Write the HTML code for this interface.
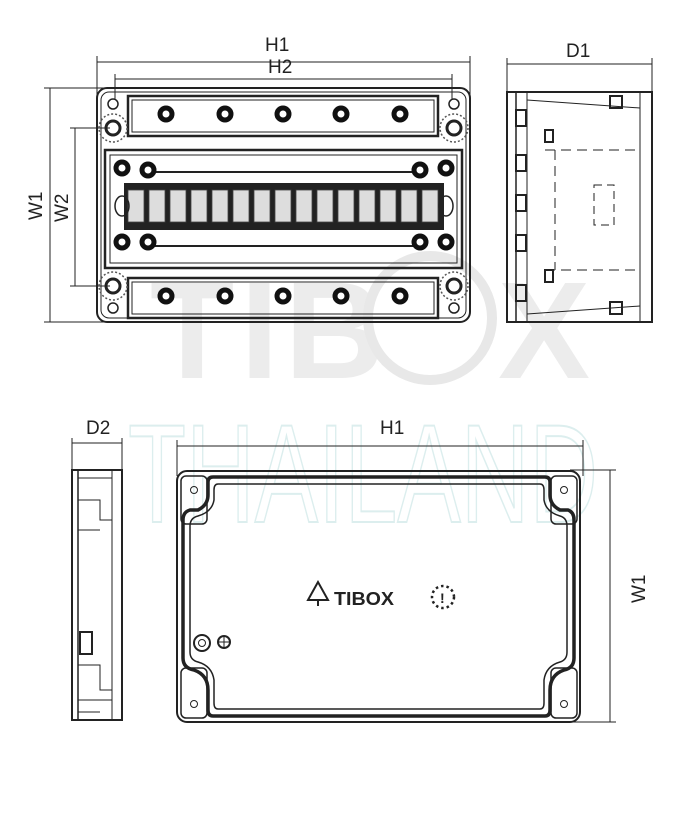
<!DOCTYPE html>
<html><head><meta charset="utf-8"><style>
html,body{margin:0;padding:0;background:#fff;}
svg{display:block;}
text{font-family:"Liberation Sans",sans-serif;}
</style></head><body>
<svg width="695" height="820" viewBox="0 0 695 820" xmlns="http://www.w3.org/2000/svg">
<!-- watermark -->
<text x="150" y="378" font-size="138" font-weight="bold" fill="#ececec" letter-spacing="6">TIB</text>
<circle cx="430" cy="318" r="62" fill="none" stroke="#e8e8e8" stroke-width="10"/>
<text x="498" y="378" font-size="138" font-weight="bold" fill="#ececec">X</text>
<text x="128" y="522" font-size="140" font-family="Liberation Serif" fill="none" stroke="#dceeee" stroke-width="2" textLength="470" lengthAdjust="spacingAndGlyphs">THAILAND</text>

<g stroke="#222" fill="none" stroke-width="1">
<line x1="97" y1="62" x2="470" y2="62"/><line x1="97" y1="56" x2="97" y2="95"/><line x1="470" y1="56" x2="470" y2="95"/>
<line x1="115" y1="79" x2="452" y2="79"/><line x1="115" y1="74" x2="115" y2="100"/><line x1="452" y1="74" x2="452" y2="100"/>
<line x1="50" y1="88" x2="50" y2="322"/><line x1="44" y1="88" x2="110" y2="88"/><line x1="44" y1="322" x2="110" y2="322"/>
<line x1="75" y1="128" x2="75" y2="286"/><line x1="70" y1="128" x2="110" y2="128"/><line x1="70" y1="286" x2="110" y2="286"/>
<rect x="97" y="88" width="373" height="234" rx="10" stroke-width="2"/>
<rect x="101" y="92" width="365" height="226" rx="8"/>
<rect x="128" y="96" width="310" height="40" stroke-width="2.5"/>
<rect x="132" y="100" width="302" height="32"/>
<rect x="128" y="278" width="310" height="40" stroke-width="2.5"/>
<rect x="132" y="282" width="302" height="32"/>
<rect x="105" y="150" width="357" height="118" stroke-width="2.5"/>
<rect x="110" y="155" width="347" height="108"/>
<line x1="150" y1="172" x2="420" y2="172" stroke-width="2"/>
<line x1="150" y1="246" x2="420" y2="246" stroke-width="2"/>
</g>
<g fill="none" stroke="#222" stroke-width="1.5">
<circle cx="113" cy="104" r="5"/><circle cx="113" cy="128" r="7" stroke-width="3"/><circle cx="113" cy="128" r="14" stroke="#555" stroke-dasharray="2 2"/>
<circle cx="454" cy="104" r="5"/><circle cx="454" cy="128" r="7" stroke-width="3"/><circle cx="454" cy="128" r="14" stroke="#555" stroke-dasharray="2 2"/>
<circle cx="113" cy="308" r="5"/><circle cx="113" cy="286" r="7" stroke-width="3"/><circle cx="113" cy="286" r="14" stroke="#555" stroke-dasharray="2 2"/>
<circle cx="454" cy="308" r="5"/><circle cx="454" cy="286" r="7" stroke-width="3"/><circle cx="454" cy="286" r="14" stroke="#555" stroke-dasharray="2 2"/>
</g>
<g fill="#fff" stroke="#111" stroke-width="5">
<circle cx="166" cy="114" r="6"/><circle cx="225" cy="114" r="6"/><circle cx="283" cy="114" r="6"/><circle cx="341" cy="114" r="6"/><circle cx="400" cy="114" r="6"/>
<circle cx="166" cy="296" r="6"/><circle cx="225" cy="296" r="6"/><circle cx="283" cy="296" r="6"/><circle cx="341" cy="296" r="6"/><circle cx="400" cy="296" r="6"/>
<circle cx="122" cy="168" r="6"/><circle cx="148" cy="170" r="6"/><circle cx="420" cy="170" r="6"/><circle cx="446" cy="168" r="6"/>
<circle cx="122" cy="242" r="6"/><circle cx="148" cy="242" r="6"/><circle cx="420" cy="242" r="6"/><circle cx="446" cy="242" r="6"/>
</g>
<rect x="124" y="183" width="320" height="47" fill="#222"/>
<g fill="#ddd" stroke="#444" stroke-width="0.8">
<rect x="128" y="190" width="16" height="32"/><rect x="149" y="190" width="16" height="32"/><rect x="170" y="190" width="16" height="32"/><rect x="191" y="190" width="16" height="32"/><rect x="212" y="190" width="16" height="32"/><rect x="233" y="190" width="16" height="32"/><rect x="254" y="190" width="16" height="32"/><rect x="275" y="190" width="16" height="32"/><rect x="296" y="190" width="16" height="32"/><rect x="317" y="190" width="16" height="32"/><rect x="338" y="190" width="16" height="32"/><rect x="359" y="190" width="16" height="32"/><rect x="380" y="190" width="16" height="32"/><rect x="401" y="190" width="16" height="32"/><rect x="422" y="190" width="16" height="32"/>
</g>
<g fill="none" stroke="#222" stroke-width="1.5"><ellipse cx="122" cy="206" rx="7" ry="10"/><ellipse cx="446" cy="206" rx="7" ry="10"/></g>

<g stroke="#222" fill="none" stroke-width="1">
<line x1="507" y1="64" x2="652" y2="64"/><line x1="507" y1="58" x2="507" y2="92"/><line x1="652" y1="58" x2="652" y2="92"/>
<rect x="507" y="92" width="145" height="230" stroke-width="2"/>
<line x1="516" y1="92" x2="516" y2="322" stroke-width="1.5"/>
<line x1="527" y1="92" x2="527" y2="322"/>
<line x1="640" y1="92" x2="640" y2="322"/>
<path d="M527 100 L640 108 M527 314 L640 306" />
<path d="M545 150 L640 150 M545 270 L640 270 M555 150 L555 270" stroke-dasharray="10 6"/>
<rect x="594" y="185" width="20" height="40" stroke-dasharray="8 5"/>
<g stroke-width="2"><rect x="516" y="110" width="10" height="16"/><rect x="516" y="155" width="10" height="16"/><rect x="516" y="195" width="10" height="16"/><rect x="516" y="235" width="10" height="16"/><rect x="516" y="285" width="10" height="16"/><rect x="545" y="130" width="8" height="12"/><rect x="545" y="270" width="8" height="12"/><rect x="610" y="96" width="12" height="12"/><rect x="610" y="302" width="12" height="12"/></g>
</g>

<g stroke="#222" fill="none" stroke-width="1">
<line x1="72" y1="443" x2="122" y2="443"/><line x1="72" y1="438" x2="72" y2="470"/><line x1="122" y1="438" x2="122" y2="470"/>
<rect x="72" y="470" width="50" height="250" stroke-width="2"/>
<line x1="78" y1="470" x2="78" y2="720" stroke-width="1.5"/>
<line x1="112" y1="470" x2="112" y2="720"/>
<path d="M78 478 H112 M78 500 H100 V520 H112 M78 530 H100 M78 665 H100 V690 H112 M78 700 H112 M78 712 H100"/>
<rect x="80" y="632" width="12" height="22" stroke-width="2"/>
</g>

<g stroke="#222" fill="none">
<line x1="177" y1="446" x2="583" y2="446"/><line x1="177" y1="440" x2="177" y2="476"/><line x1="583" y1="440" x2="583" y2="476"/>
<line x1="610" y1="470" x2="610" y2="722"/><line x1="570" y1="470" x2="616" y2="470"/><line x1="570" y1="722" x2="616" y2="722"/>
<rect x="177" y="471" width="403" height="251" rx="10" stroke-width="2"/>
<path d="M213 477 H545 Q550 477 550 482 V495 Q550 505 560 510 L568 510 Q574 512 574 520 V658 Q574 668 564 670 Q550 675 550 690 V710 Q550 716 545 716 H213 Q208 716 208 710 V690 Q208 675 194 670 Q183 668 183 658 V520 Q183 512 190 510 L198 510 Q208 505 208 495 V482 Q208 477 213 477 Z" stroke-width="3.5"/>
<path d="M218 484 H540 Q544 484 544 490 V500 Q546 512 560 516 Q567 518 567 526 V652 Q567 660 560 662 Q546 666 544 680 V703 Q544 709 540 709 H218 Q214 709 214 703 V680 Q212 666 198 662 Q190 660 190 652 V526 Q190 518 198 516 Q212 512 214 500 V490 Q214 484 218 484 Z" stroke-width="1.5"/>
<rect x="181" y="476" width="26" height="48" rx="5" stroke-width="1.5"/>
<rect x="551" y="476" width="26" height="48" rx="5" stroke-width="1.5"/>
<rect x="181" y="668" width="26" height="50" rx="5" stroke-width="1.5"/>
<rect x="551" y="668" width="26" height="50" rx="5" stroke-width="1.5"/>
<circle cx="194" cy="490" r="3.5"/><circle cx="564" cy="490" r="3.5"/><circle cx="194" cy="704" r="3.5"/><circle cx="564" cy="704" r="3.5"/>
<circle cx="202" cy="643" r="8" stroke-width="2"/><circle cx="202" cy="643" r="3.5"/>
<circle cx="224" cy="642" r="6" stroke-width="2"/><path d="M218 642 H230 M224 636 V648"/>
<path d="M318 582 L308 600 L328 600 Z M318 600 V606" stroke-width="2"/>
<circle cx="443" cy="597" r="11" stroke-width="2.5" stroke-dasharray="2.5 3"/>
</g>
<text x="334" y="605" font-size="18" font-weight="bold" fill="#222" textLength="60" lengthAdjust="spacingAndGlyphs">TIBOX</text>
<text x="440" y="603" font-size="14" font-weight="bold" fill="#222">!</text>

<g font-size="19" fill="#222">
<text x="265" y="51">H1</text>
<text x="268" y="73">H2</text>
<text x="566" y="57">D1</text>
<text x="86" y="434">D2</text>
<text x="380" y="434">H1</text>
<text transform="translate(42,220) rotate(-90)">W1</text>
<text transform="translate(68,222) rotate(-90)">W2</text>
<text transform="translate(645,603) rotate(-90)">W1</text>
</g>
</svg>
</body></html>
